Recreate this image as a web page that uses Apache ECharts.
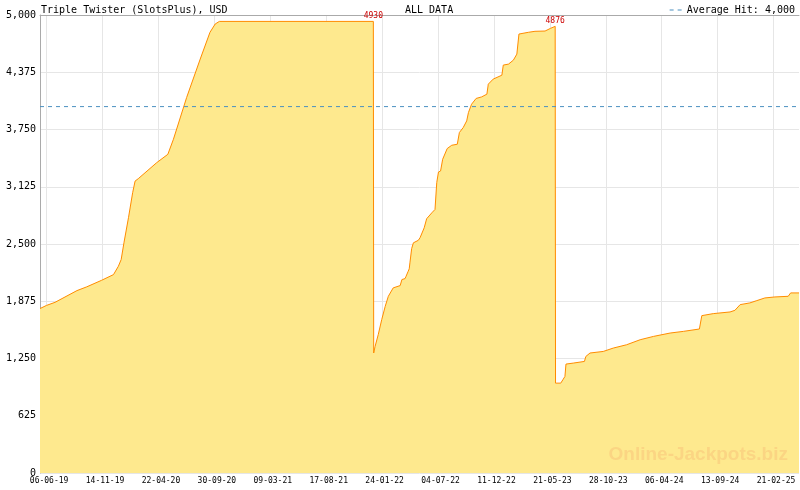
<!DOCTYPE html>
<html><head><meta charset="utf-8">
<script src="https://cdn.jsdelivr.net/npm/echarts@6/dist/echarts.min.js"></script>
<style>html,body{margin:0;padding:0;background:#fff}#c{width:800px;height:490px}</style>
</head><body><div id="c"></div>
<script>
const chartTitle = 'Triple Twister (SlotsPlus), USD';
const rangeLabel = 'ALL DATA';
const watermark = 'Online-Jackpots.biz';
const averageHit = 4000;
const axisStart = '2019-05-18';
const axisEnd = '2025-05-05';
const firstTick = '2019-06-06';
const tickSpacingDays = 160.538;
const minorPerMajor = 7;
const tickLabels = ['06-06-19','14-11-19','22-04-20','30-09-20','09-03-21','17-08-21','24-01-22','04-07-22','11-12-22','21-05-23','28-10-23','06-04-24','13-09-24','21-02-25'];
const labelledDates = ['2021-12-30','2023-06-05'];

const dates = [
'2019-05-18','2019-06-06','2019-06-30','2019-09-01','2019-09-29','2019-11-11','2019-12-15','2019-12-29',
'2020-01-06','2020-01-14','2020-01-27','2020-02-08','2020-02-15','2020-02-24','2020-04-17','2020-05-19',
'2020-06-04','2020-07-12','2020-08-20','2020-09-17','2020-10-02','2020-10-14','2021-12-30','2021-12-31',
'2022-01-04','2022-01-13','2022-01-23','2022-02-02','2022-02-11','2022-02-25','2022-03-17','2022-03-22',
'2022-03-31','2022-04-03','2022-04-09','2022-04-12','2022-04-14','2022-04-19','2022-04-24','2022-04-26',
'2022-05-08','2022-05-13','2022-05-25','2022-06-01','2022-06-16','2022-06-25','2022-06-30','2022-07-05',
'2022-07-11','2022-07-17','2022-07-30','2022-08-12','2022-08-28','2022-09-03','2022-09-14','2022-09-24',
'2022-09-29','2022-10-08','2022-10-21','2022-11-06','2022-11-21','2022-11-25','2022-12-09','2023-01-03',
'2023-01-07','2023-01-22','2023-02-05','2023-02-15','2023-02-21','2023-03-20','2023-04-08','2023-05-07',
'2023-05-23','2023-06-05','2023-06-06','2023-06-21','2023-06-27','2023-07-03','2023-07-06','2023-07-27',
'2023-08-28','2023-09-01','2023-09-13','2023-10-21','2023-11-19','2023-12-27','2024-02-04','2024-03-13',
'2024-04-30','2024-06-07','2024-07-23','2024-07-30','2024-09-01','2024-10-19','2024-11-02','2024-11-17',
'2024-12-15','2025-01-04','2025-01-27','2025-02-25','2025-04-04','2025-04-11','2025-05-05'
];
const values = [
1795,1830,1863,1991,2032,2104,2166,2257,
2330,2513,2787,3060,3187,3213,3388,3479,
3643,4100,4519,4811,4902,4930,4930,1310,
1382,1510,1674,1819,1929,2021,2046,2112,
2122,2148,2202,2229,2294,2450,2513,2520,
2540,2568,2677,2776,2841,2877,3170,3286,
3297,3425,3542,3578,3589,3717,3771,3844,
3935,4026,4089,4106,4136,4245,4300,4343,
4453,4464,4507,4573,4792,4811,4822,4825,
4855,4876,981,981,1017,1054,1189,1200,
1218,1272,1310,1327,1364,1400,1455,1491,
1528,1546,1572,1718,1740,1758,1776,1838,
1857,1882,1911,1922,1929,1966,1966
];

const DAY = 86400000;
const xMin = Date.parse(axisStart), xMax = Date.parse(axisEnd);
const t0 = Date.parse(firstTick);
const majorMs = tickSpacingDays * DAY;
const minorMs = majorMs / minorPerMajor;
const majorTicks = tickLabels.map((_, k) => t0 + k * majorMs);
const minorTicks = [];
for (let t = t0; t <= xMax; t += minorMs) minorTicks.push(t);
const seriesData = dates.map((d, i) => [Date.parse(d), values[i]]);
const peakPoints = labelledDates.map(d => {
  const i = dates.indexOf(d);
  return { coord: [Date.parse(d), values[i]], value: values[i] };
});
const mono = '"DejaVu Sans Mono", "Liberation Mono", monospace';
const avgName = 'Average Hit: ' + averageHit.toLocaleString('en-US');

const chart = echarts.init(document.getElementById('c'), null, {renderer: 'canvas'});
chart.setOption({
  animation: false,
  backgroundColor: '#ffffff',
  title: [
    {text: chartTitle, left: 36, top: 0, textStyle: {fontFamily: mono, fontSize: 10, fontWeight: 'normal', color: '#000'}},
    {text: rangeLabel, left: 400, top: 0, textStyle: {fontFamily: mono, fontSize: 10, fontWeight: 'normal', color: '#000'}}
  ],
  legend: {
    right: 0, top: 0, itemWidth: 12, itemHeight: 1,
    textStyle: {fontFamily: mono, fontSize: 10, color: '#000'},
    data: [{name: avgName, icon: 'path://M0,0H4V1H0Z M8,0H12V1H8Z', itemStyle: {color: '#4a90c0'}}]
  },
  grid: {left: 40, right: 1, top: 15, bottom: 17},
  xAxis: [
    {
      type: 'value', min: xMin, max: xMax,
      axisLine: {show: false},
      axisTick: {show: true, inside: true, length: 4, customValues: minorTicks, lineStyle: {color: '#999'}},
      splitLine: {show: false},
      axisLabel: {
        customValues: majorTicks, margin: 4, padding: [0, 0, 0, 5],
        fontFamily: mono, fontSize: 8, color: '#000',
        formatter: v => tickLabels[Math.round((v - t0) / majorMs)] || ''
      }
    },
    {
      type: 'value', min: xMin, max: xMax, position: 'top',
      axisLine: {show: true, lineStyle: {color: '#aaa'}},
      axisTick: {show: false, customValues: majorTicks},
      axisLabel: {show: false},
      splitLine: {show: true, lineStyle: {color: '#e6e6e6'}}
    }
  ],
  yAxis: {
    type: 'value', min: 0, max: 5000, interval: 625,
    axisLine: {show: true, lineStyle: {color: '#aaa'}},
    axisTick: {show: false},
    splitLine: {show: true, lineStyle: {color: '#e6e6e6'}},
    axisLabel: {margin: 4, fontFamily: mono, fontSize: 10, color: '#000',
      formatter: v => v.toLocaleString('en-US')}
  },
  graphic: [{
    type: 'text', right: 12, bottom: 26, z: 100,
    style: {text: watermark, font: 'bold 19px "Liberation Sans", Arial, sans-serif', fill: '#fbd583'}
  }],
  series: [
    {
      type: 'line', name: 'Jackpot', xAxisIndex: 0, data: seriesData,
      symbol: 'none', lineStyle: {color: '#ff8c00', width: 1},
      itemStyle: {color: '#ff8c00'},
      areaStyle: {color: '#fee98e', opacity: 1},
      z: 2,
      markPoint: {
        symbol: 'circle', symbolSize: 0,
        label: {show: true, position: 'top', distance: 1, color: '#cc0000', fontFamily: mono, fontSize: 8,
          formatter: p => String(p.value)},
        data: peakPoints
      }
    },
    {
      type: 'line', name: avgName, xAxisIndex: 0,
      data: [[xMin, averageHit], [xMax, averageHit]],
      symbol: 'none', z: 5,
      lineStyle: {color: '#4a90c0', width: 1, type: [4, 4]},
      itemStyle: {color: '#4a90c0'}
    }
  ]
});
</script></body></html>
